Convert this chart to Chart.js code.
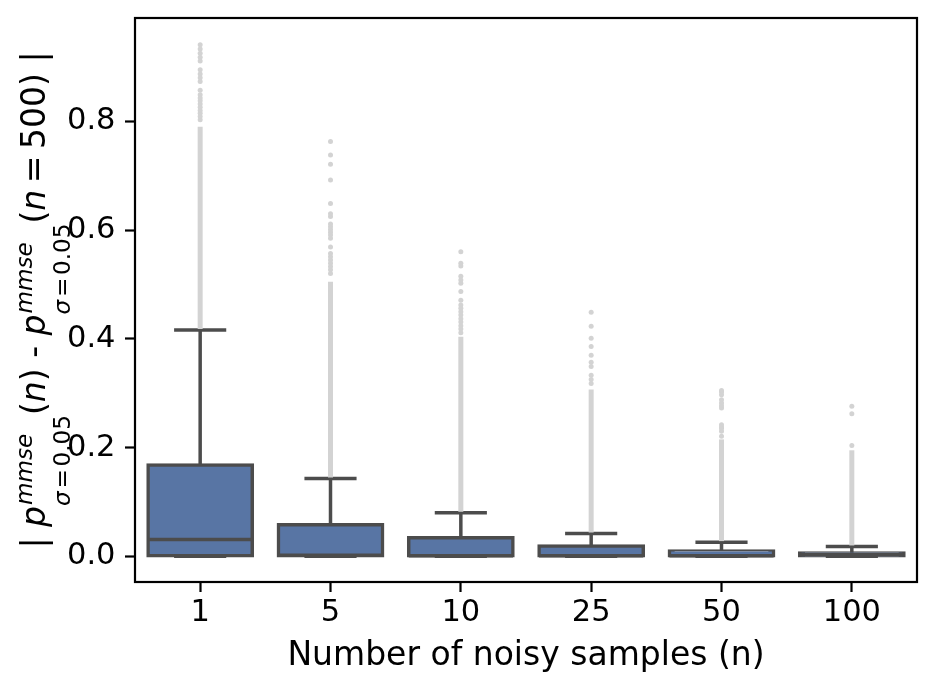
<!DOCTYPE html>
<html>
<head>
<meta charset="utf-8">
<script src="https://cdn.jsdelivr.net/npm/chart.js@4.4.1/dist/chart.umd.min.js"></script>
<style>
  html, body { margin: 0; padding: 0; background: #fff; }
  canvas { display: block; }
</style>
</head>
<body>
<canvas id="grafico" width="935" height="693"></canvas>
<script>
const categories = ['1', '5', '10', '25', '50', '100']
const q1 = [0, 0, 0, 0, 0, 0]
const medians = [0.031, 0.002, 0.001, 0.001, 0.001, 0.003]
const q3 = [0.168, 0.058, 0.034, 0.019, 0.010, 0.006]
const whiskerLow = [0, 0, 0, 0, 0, 0]
const whiskerHigh = [0.416, 0.143, 0.080, 0.042, 0.026, 0.018]
// outliers packed so tight they read as one solid stripe
const denseFrom = [0.418, 0.145, 0.082, 0.044, 0.028, 0.020]
const denseTo = [0.790, 0.505, 0.404, 0.307, 0.215, 0.195]
// outliers above the stripe that can still be told apart
const sparseOutliers = [
  [0.803, 0.809, 0.815, 0.820, 0.826, 0.832, 0.838, 0.843, 0.849, 0.857, 0.873, 0.880, 0.887, 0.895, 0.911, 0.918, 0.925, 0.933, 0.941],
  [0.520, 0.527, 0.533, 0.539, 0.545, 0.551, 0.557, 0.569, 0.585, 0.591, 0.596, 0.601, 0.606, 0.611, 0.625, 0.630, 0.649, 0.692, 0.721, 0.738, 0.763],
  [0.411, 0.418, 0.424, 0.431, 0.437, 0.444, 0.450, 0.456, 0.462, 0.471, 0.487, 0.502, 0.508, 0.515, 0.534, 0.539, 0.560],
  [0.318, 0.325, 0.333, 0.349, 0.357, 0.370, 0.386, 0.401, 0.423, 0.449],
  [0.221, 0.230, 0.235, 0.238, 0.242, 0.273, 0.277, 0.282, 0.288, 0.297, 0.302, 0.305],
  [0.204, 0.262, 0.276]
]
const yTicks = [0, 0.2, 0.4, 0.6, 0.8]

const blue = '#5875a4'
const gray = '#4c4c4c'
const lightGray = '#d3d3d3'
const lw = 3.5

Chart.defaults.font.family = '"DejaVu Sans"'
Chart.defaults.color = '#000'

const categoryWidth = (c) => c.chart.chartArea ? c.chart.chartArea.width / categories.length : 0

const outlierPoints = []
sparseOutliers.forEach((list, i) => {
  list.forEach((v) => outlierPoints.push({ x: categories[i], y: v }))
})

const datasets = [
  {
    type: 'line', order: 0, showLine: false,
    data: outlierPoints,
    pointRadius: 2.5, pointBorderWidth: 0,
    pointBackgroundColor: lightGray
  },
  {
    type: 'bar', order: 1, grouped: false,
    data: categories.map((c, i) => [denseFrom[i], denseTo[i]]),
    backgroundColor: lightGray, barThickness: 5, inflateAmount: 0, borderWidth: 0
  },
  {
    type: 'line', order: 2, showLine: false,
    data: whiskerHigh,
    pointStyle: 'line', pointBorderColor: gray, pointBorderWidth: lw,
    pointRadius: (c) => categoryWidth(c) * 0.2
  },
  {
    type: 'line', order: 2, showLine: false,
    data: whiskerLow,
    pointStyle: 'line', pointBorderColor: gray, pointBorderWidth: lw,
    pointRadius: (c) => categoryWidth(c) * 0.2
  },
  {
    type: 'line', order: 3, showLine: false,
    data: medians,
    pointStyle: 'line', pointBorderColor: gray, pointBorderWidth: lw,
    pointRadius: (c) => categoryWidth(c) * 0.4
  },
  {
    type: 'bar', order: 4, grouped: false,
    data: categories.map((c, i) => [q1[i], q3[i]]),
    backgroundColor: blue, borderColor: gray, borderWidth: lw,
    borderSkipped: false, inflateAmount: lw / 2,
    barPercentage: 0.8, categoryPercentage: 1
  },
  {
    type: 'bar', order: 5, grouped: false,
    data: categories.map((c, i) => [q3[i], whiskerHigh[i]]),
    backgroundColor: gray, barThickness: lw, inflateAmount: 0, borderWidth: 0
  },
  {
    type: 'bar', order: 5, grouped: false,
    data: categories.map((c, i) => [whiskerLow[i], q1[i]]),
    backgroundColor: gray, barThickness: lw, inflateAmount: 0, borderWidth: 0
  }
]

// frame round the plot, like matplotlib spines
const frame = {
  id: 'frame',
  afterDatasetsDraw(chart) {
    const { ctx, chartArea: a } = chart
    ctx.save()
    ctx.strokeStyle = '#000'
    ctx.lineWidth = 2.2
    ctx.strokeRect(a.left, a.top, a.width, a.height)
    ctx.restore()
  }
}

// y label with sub and superscripts, drawn rotated
const F = 33
const scriptSize = F * 0.7
const scriptBlock = {
  sup: [{ t: 'mmse', it: true }],
  sub: [{ t: 'σ', it: true }, { t: '=', pad: 0.12 }, { t: '0.05' }]
}
const yLabel = [
  { t: '| ' },
  { t: 'p', it: true },
  scriptBlock,
  { t: '(' }, { t: 'n', it: true }, { t: ')' },
  { t: ' - ' },
  { t: 'p', it: true },
  scriptBlock,
  { t: '(' }, { t: 'n', it: true }, { t: '=', pad: 0.2 }, { t: '500' }, { t: ')' },
  { t: ' |' }
]

function fontFor(it, size) {
  return `${it ? 'italic ' : ''}${size}px "DejaVu Sans"`
}

function runPieces(ctx, pieces, size, x, dy, draw) {
  pieces.forEach((p) => {
    ctx.font = fontFor(p.it, size)
    const pad = (p.pad || 0) * size
    x += pad
    if (draw) ctx.fillText(p.t, x, dy)
    x += ctx.measureText(p.t).width + pad
  })
  return x
}

function runLabel(ctx, x, draw) {
  yLabel.forEach((seg) => {
    if (seg.sup) {
      const a = runPieces(ctx, seg.sup, scriptSize, x + 1, -13, draw)
      const b = runPieces(ctx, seg.sub, scriptSize, x, 25, draw)
      x = Math.max(a, b)
    } else {
      x = runPieces(ctx, [seg], F, x, 0, draw)
    }
  })
  return x
}

const yTitle = {
  id: 'yTitle',
  afterDraw(chart) {
    const ctx = chart.ctx
    const a = chart.chartArea
    ctx.save()
    ctx.fillStyle = '#000'
    ctx.textBaseline = 'alphabetic'
    ctx.translate(44.5, (a.top + a.bottom) / 2)
    ctx.rotate(-Math.PI / 2)
    const total = runLabel(ctx, 0, false)
    runLabel(ctx, -total / 2, true)
    ctx.restore()
  }
}

const grafico = document.querySelector('#grafico')
new Chart(grafico, {
  type: 'bar',
  data: { labels: categories, datasets },
  plugins: [frame, yTitle],
  options: {
    responsive: false,
    animation: false,
    devicePixelRatio: 1,
    events: [],
    layout: { padding: { top: 18, right: 18, left: 0, bottom: 0 } },
    plugins: { legend: { display: false }, tooltip: { enabled: false } },
    scales: {
      x: {
        type: 'category',
        offset: true,
        border: { display: false },
        grid: { display: true, offset: false, drawOnChartArea: false, drawTicks: true, tickLength: 10, tickWidth: 2.2, tickColor: '#000' },
        ticks: { font: { size: 30.5, lineHeight: 1.2 }, padding: 3, maxRotation: 0, autoSkip: false },
        title: { display: true, text: 'Number of noisy samples (n)', font: { size: 33, lineHeight: 1.2 }, padding: { top: 0, bottom: 17 } },
        afterFit: (s) => { s.height = 111; s.paddingLeft = 0; s.paddingRight = 0 }
      },
      y: {
        min: -0.0472,
        max: 0.99,
        border: { display: false },
        grid: { display: true, drawOnChartArea: false, drawTicks: true, tickLength: 10, tickWidth: 2.2, tickColor: '#000' },
        ticks: { font: { size: 30.5 }, padding: 9.5, callback: (v) => v.toFixed(1) },
        afterBuildTicks: (s) => { s.ticks = yTicks.map((v) => ({ value: v })) },
        afterFit: (s) => { s.width = 135; s.paddingTop = 0; s.paddingBottom = 0 }
      }
    }
  }
})
</script>
</body>
</html>
